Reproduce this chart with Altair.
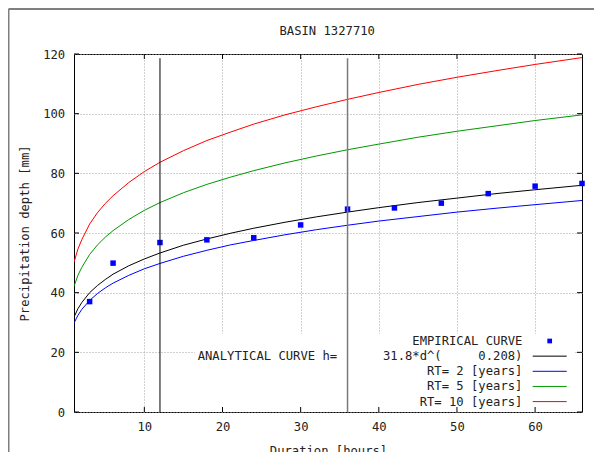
import altair as alt
import pandas as pd

# ---- data ----
duration = [1, 1.5, 2, 3, 4, 5, 6, 8, 10, 12, 15, 18, 21, 24, 28, 32, 36, 40, 45, 50, 55, 60, 66]
analytical = [31.8, 34.6, 36.7, 40.0, 42.4, 44.4, 46.2, 49.0, 51.3, 53.3, 55.9, 58.0, 59.9, 61.6,
              63.6, 65.4, 67.0, 68.5, 70.2, 71.7, 73.2, 74.5, 76.0]
rt2 = [29.8, 32.4, 34.4, 37.4, 39.7, 41.6, 43.2, 45.8, 48.0, 49.8, 52.2, 54.2, 56.0, 57.5,
       59.4, 61.1, 62.6, 64.0, 65.5, 67.0, 68.3, 69.5, 70.9]
rt5 = [42.1, 45.8, 48.5, 52.8, 56.0, 58.6, 60.8, 64.5, 67.6, 70.2, 73.5, 76.3, 78.7, 80.9,
       83.5, 85.8, 87.9, 89.8, 92.1, 94.1, 95.9, 97.7, 99.6]
rt10 = [50.2, 54.6, 57.8, 63.0, 66.8, 69.9, 72.5, 76.9, 80.6, 83.7, 87.6, 91.0, 93.8, 96.5,
        99.6, 102.3, 104.8, 107.1, 109.8, 112.2, 114.4, 116.5, 118.8]
emp_duration = [3, 6, 12, 18, 24, 30, 36, 42, 48, 54, 60, 66]
emp_depth = [37.0, 49.9, 56.8, 57.7, 58.4, 62.7, 68.0, 68.4, 70.0, 73.2, 75.7, 76.6]
x_ticks = [10, 20, 30, 40, 50, 60]
y_ticks = [0, 20, 40, 60, 80, 100, 120]
vline_x = [12, 36]
vline_top = [118.6, 118.6]

title_text = "BASIN 1327710"
x_title = "Duration [hours]"
y_title = "Precipitation depth [mm]"
analytical_prefix = "ANALYTICAL CURVE h="
key_labels = ["EMPIRICAL CURVE", "31.8*d^(\u00a0\u00a0\u00a0\u00a0\u00a00.208)",
              "RT= 2 [years]", "RT= 5 [years]", "RT= 10 [years]"]
series_names = ["ANALYTICAL", "RT2", "RT5", "RT10"]
series_colors = ["#000000", "#0000ff", "#009900", "#ff0000"]

# ---- tables ----
curves = pd.concat([
    pd.DataFrame({"d": duration, "h": vals, "series": name})
    for name, vals in zip(series_names, [analytical, rt2, rt5, rt10])
], ignore_index=True)
emp = pd.DataFrame({"d": emp_duration, "h": emp_depth})
xt = pd.DataFrame({"v": x_ticks})
yt = pd.DataFrame({"v": y_ticks})
vl = pd.DataFrame({"x": vline_x, "top": vline_top, "bottom": [0, 0]})
one = pd.DataFrame({"k": [0]})  # single row for decorations / text

W, H = 508, 358
FONT = "DejaVu Sans Mono"
FS = 12.2
TXT = "#222222"

xs = alt.Scale(domain=[1, 66], nice=False, zero=False)
ys = alt.Scale(domain=[0, 120], nice=False, zero=False)

x_axis = alt.Axis(values=x_ticks, title=x_title, labelPadding=14.4, labelBaseline="middle",
                  titleY=38.5, titleBaseline="middle", titleAnchor="middle")
y_axis = alt.Axis(values=y_ticks, title=y_title, labelPadding=9.3,
                  titleX=-49.3, titleY=H / 2, titleAngle=-90, titleBaseline="middle",
                  titleAlign="center", titleAnchor="middle")

lines = alt.Chart(curves).mark_line(strokeWidth=1, clip=True).encode(
    x=alt.X("d:Q", scale=xs, axis=x_axis),
    y=alt.Y("h:Q", scale=ys, axis=y_axis),
    color=alt.Color("series:N", scale=alt.Scale(domain=series_names, range=series_colors), legend=None),
)

# white key background hiding the grid
key_bg = alt.Chart(one).mark_rect(fill="white").encode(
    x=alt.value(121), x2=alt.value(501), y=alt.value(280), y2=alt.value(357.5)
)

points = alt.Chart(emp).mark_square(size=30, color="#0000ff", opacity=1).encode(
    x=alt.X("d:Q", scale=xs), y=alt.Y("h:Q", scale=ys)
)

vline_black = alt.Chart(vl.iloc[[0]]).mark_rule(color="#000000", strokeWidth=1).encode(
    x=alt.X("x:Q", scale=xs), y=alt.Y("bottom:Q", scale=ys), y2="top:Q"
)
vline_grey = alt.Chart(vl.iloc[[1]]).mark_rule(color="#7a7a7a", strokeWidth=1.5).encode(
    x=alt.X("x:Q", scale=xs), y=alt.Y("bottom:Q", scale=ys), y2="top:Q"
)

# inward ticks on all four sides
tick_style = dict(color="#000000", strokeWidth=1)
xt_bottom = alt.Chart(xt).mark_rule(**tick_style).encode(
    x=alt.X("v:Q", scale=xs), y=alt.value(H), y2=alt.value(H - 5))
xt_top = alt.Chart(xt).mark_rule(**tick_style).encode(
    x=alt.X("v:Q", scale=xs), y=alt.value(0), y2=alt.value(5))
yt_left = alt.Chart(yt).mark_rule(**tick_style).encode(
    y=alt.Y("v:Q", scale=ys), x=alt.value(0), x2=alt.value(5))
yt_right = alt.Chart(yt).mark_rule(**tick_style).encode(
    y=alt.Y("v:Q", scale=ys), x=alt.value(W), x2=alt.value(W - 5))

# title
title_mark = alt.Chart(one).mark_text(
    text=title_text, font=FONT, fontSize=FS, color=TXT, align="center", baseline="middle"
).encode(x=alt.value(253.2), y=alt.value(-22.7))

# key
key_y0, key_dy = 287.0, 15.15
key_text_x = 448.4
key_layers = []
for i, lab in enumerate(key_labels):
    key_layers.append(
        alt.Chart(one).mark_text(text=lab, font=FONT, fontSize=FS, color=TXT,
                                 align="right", baseline="middle")
        .encode(x=alt.value(key_text_x), y=alt.value(key_y0 + i * key_dy))
    )
key_layers.append(
    alt.Chart(one).mark_text(text=analytical_prefix, font=FONT, fontSize=FS, color=TXT,
                             align="left", baseline="middle")
    .encode(x=alt.value(123.7), y=alt.value(key_y0 + key_dy))
)
key_layers.append(
    alt.Chart(one).mark_square(size=22, color="#0000ff", opacity=1)
    .encode(x=alt.value(475.7), y=alt.value(key_y0))
)
for i, col in enumerate(series_colors):
    key_layers.append(
        alt.Chart(one).mark_rule(color=col, strokeWidth=1)
        .encode(x=alt.value(458.7), x2=alt.value(492.7), y=alt.value(key_y0 + (i + 1) * key_dy))
    )

# outer window frame
frame_left = alt.Chart(one).mark_rule(color="#7f7f7f", strokeWidth=2).encode(
    x=alt.value(-65.5), y=alt.value(-45), y2=alt.value(400))
frame_top = alt.Chart(one).mark_rule(color="#7f7f7f", strokeWidth=2).encode(
    x=alt.value(-65.5), x2=alt.value(530), y=alt.value(-45))

chart = alt.layer(
    lines, key_bg, points, vline_black, vline_grey,
    xt_bottom, xt_top, yt_left, yt_right,
    title_mark, *key_layers, frame_left, frame_top
).properties(
    width=W, height=H,
    padding={"left": 66, "top": 46, "right": 12, "bottom": 40},
    autosize=alt.AutoSizeParams(type="none"),
    background="white",
).configure_view(
    stroke="#000000", strokeWidth=1
).configure_axis(
    domain=False, ticks=False, tickSize=0,
    grid=True, gridDash=[1, 2], gridColor="#a0a0a0", gridWidth=1,
    labelFont=FONT, labelFontSize=FS, labelColor=TXT,
    titleFont=FONT, titleFontSize=FS, titleColor=TXT, titleFontWeight="normal",
)

chart.save("out.html", embed_options={"renderer": "svg", "actions": False})
